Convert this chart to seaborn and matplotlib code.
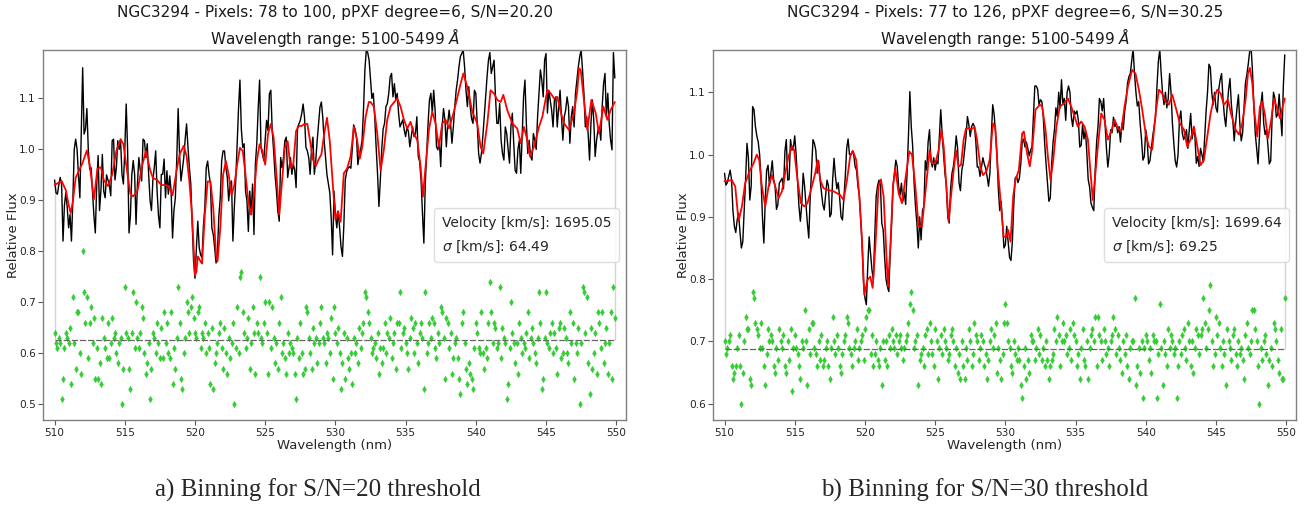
import numpy as np
import matplotlib
matplotlib.use("Agg")
import matplotlib.pyplot as plt
from matplotlib.lines import Line2D
import seaborn as sns

# ---------------- data ----------------
WL_START_A = 5100   # Angstrom, first pixel
WL_STEP_A = 1       # Angstrom per pixel

# Panel a) S/N=20 binning
galaxy_a = [
    .94,.915,.912,.93,.945,.93,.82,.89,.915,.886,
    .846,.872,.82,.90,1.0,1.02,1.0,.95,.905,1.03,
    1.16,1.03,1.04,1.08,1.0,.961,.964,.918,.87,.836,
    .93,.988,.88,.92,.99,.918,.905,.95,.94,.93,
    .909,1.017,1.02,.94,.964,1.017,1.0,1.017,.951,.932,
    1.0,1.089,1.0,.836,.87,.95,.978,.951,.853,.932,
    .984,.96,.938,1.02,1.017,.984,1.011,.95,.90,.88,
    .94,.964,.997,.918,.87,.846,.951,.951,.981,.905,
    .958,.912,.948,.918,.826,.88,.905,.98,1.08,.991,
    .938,.96,.984,1.02,1.05,1.004,.964,.932,.853,.78,
    .747,.807,.859,.807,.793,.787,.85,.886,.964,.977,
    .951,.932,.846,.833,.807,.777,.80,.87,.905,.978,
    .997,.997,.964,.945,.899,.932,.938,.82,.886,.938,
    1.011,1.08,1.136,1.04,1.004,1.011,.918,.899,.839,.918,
    .872,.932,.833,.971,1.011,1.08,1.136,1.004,.991,.978,
    1.02,1.057,1.037,1.109,1.116,1.037,.997,.95,.918,.879,
    .859,.984,.964,.984,1.017,1.024,.945,.964,.984,.951,
    .971,.96,.925,1.043,1.05,1.057,1.07,1.089,1.063,1.004,
    .997,.984,.951,1.0,1.024,.951,.978,1.017,1.05,1.083,
    1.093,1.063,1.017,.984,.95,.932,.915,.866,.793,.918,
    .872,.846,.879,.846,.809,.79,.85,.94,.956,.963,
    .966,.963,1.0,1.048,1.04,1.025,.97,.99,1.0,1.018,
    1.077,1.156,1.195,1.19,1.175,1.136,1.1,1.11,1.064,1.005,
    .953,.888,.94,1.0,1.04,1.051,1.084,1.09,1.11,1.142,
    1.149,1.103,1.129,1.097,1.11,1.071,1.044,1.051,1.058,1.038,
    1.025,1.044,1.035,1.005,1.025,1.044,1.025,1.031,1.064,.986,
    .976,.94,.875,.816,.933,.992,1.051,1.097,1.11,1.071,
    1.116,1.077,1.005,.999,1.018,.966,1.044,1.08,1.058,1.005,
    1.051,1.077,1.051,1.012,1.044,1.084,1.116,1.136,1.162,1.182,
    1.188,1.195,1.162,1.116,1.084,1.123,1.084,1.06,1.051,1.116,
    1.11,1.051,.992,.973,.992,1.025,1.064,1.103,1.142,1.175,
    1.19,1.149,1.162,1.175,1.103,1.051,1.051,1.09,1.018,.992,
    .979,1.044,1.031,1.0,.973,1.044,1.071,1.012,.959,.953,
    1.0,1.018,.953,1.025,1.103,1.136,1.051,.992,1.018,.986,
    .979,1.031,1.018,1.0,1.064,1.11,1.156,1.136,1.103,1.175,
    1.188,1.071,1.116,1.097,1.077,1.044,1.097,1.103,1.044,1.084,
    1.116,1.064,1.018,1.064,1.077,1.103,1.084,1.012,1.064,1.084,
    1.044,1.11,1.136,1.162,1.182,1.195,1.156,1.11,1.044,1.064,
    1.031,.979,1.051,1.097,1.058,.986,1.018,1.038,1.044,1.018,
    1.084,1.129,1.149,1.064,1.11,1.051,1.018,.999,1.19,1.14,
]

fit_wl_a = [
    510.0, 510.3, 510.5, 510.8, 511.0, 511.15, 511.3, 511.5, 511.8, 512.0,
    512.3, 512.5, 512.8, 513.05, 513.3, 513.5, 513.8, 514.1, 514.4, 514.7,
    514.9, 515.2, 515.4, 515.6, 515.9, 516.2, 516.5, 516.8, 517.0, 517.3,
    517.6, 517.9, 518.1, 518.4, 518.7, 518.9, 519.2, 519.4, 519.6, 519.8,
    520.0, 520.1, 520.2, 520.4, 520.5, 520.7, 520.9, 521.1, 521.3, 521.5,
    521.6, 521.8, 522.0, 522.2, 522.4, 522.6, 522.8, 523.0, 523.2, 523.4,
    523.6, 523.8, 524.0, 524.2, 524.4, 524.6, 524.8, 525.0, 525.2, 525.4,
    525.6, 525.8, 526.0, 526.2, 526.4, 526.6, 526.8, 527.0, 527.2, 527.4,
    527.6, 527.8, 528.0, 528.2, 528.4, 528.6, 528.8, 529.0, 529.2, 529.4,
    529.6, 529.8, 530.0, 530.18, 530.37, 530.6, 530.84, 531.08, 531.32, 531.55,
    531.74, 531.91, 532.15, 532.38, 532.5, 532.74, 532.98, 533.22, 533.45, 533.69,
    533.93, 534.4, 534.64, 534.88, 535.12, 535.35, 535.59, 535.83, 536.07, 536.23,
    536.42, 536.66, 536.9, 537.13, 537.37, 537.61, 537.85, 538.09, 538.44, 538.92,
    539.11, 539.39, 539.75, 540.1, 540.34, 540.53, 540.82, 541.05, 541.29, 541.53,
    541.77, 541.96, 542.24, 542.6, 542.95, 543.19, 543.43, 543.67, 543.86, 544.14,
    544.5, 544.74, 545.09, 545.33, 545.57, 545.8, 546.04, 546.28, 546.64, 546.99,
    547.23, 547.35, 547.47, 547.7, 547.94, 548.23, 548.54, 548.77, 549.08, 549.37,
    549.6, 549.9,
]
fit_flux_a = [
    .930, .935, .938, .92, .891, .875, .898, .944, .962, .974,
    .998, .97, .902, .962, .965, .94, .928, .95, .997, 1.02,
    1.01, .95, .912, .908, .918, .964, .997, .96, .944, .94,
    .93, .93, .928, .91, .96, .99, 1.007, .987, .937, .865,
    .753, .76, .79, .78, .776, .872, .937, .937, .885, .793,
    .78, .845, .95, .977, .95, .91, .93, .97, 1.003, .997,
    .95, .898, .872, .91, .977, 1.01, .997, .97, 1.03, 1.05,
    1.023, .95, .872, .937, 1.003, 1.016, .964, .97, 1.036, 1.046,
    1.046, 1.05, 1.05, 1.016, .98, .967, .98, .99, 1.03, 1.062,
    1.016, .937, .862, .878, .858, .953, .963, .986, 1.044, 1.018,
    .982, 1.005, 1.064, 1.093, 1.093, 1.084, 1.031, .959, .999, 1.058,
    1.084, 1.1, 1.084, 1.058, 1.041, 1.054, 1.031, 1.018, .966, .907,
    .966, 1.038, 1.074, 1.051, 1.005, 1.051, 1.058, 1.041, 1.074, 1.129,
    1.149, 1.123, 1.074, 1.051, 1.005, .992, 1.051, 1.116, 1.11, 1.097,
    1.093, 1.107, 1.077, 1.051, 1.041, 1.012, 1.044, 1.018, .986, 1.005,
    1.044, 1.064, 1.116, 1.11, 1.1, 1.103, 1.074, 1.051, 1.038, 1.071,
    1.116, 1.159, 1.156, 1.097, 1.038, 1.097, 1.071, 1.031, 1.084, 1.058,
    1.077, 1.093,
]

resid_a = [
    .64,.62,.61,.63,.62,.51,.55,.61,.64,.63,.62,.65,.54,.71,.62,.57,.68,.68,.60,.56,
    .80,.72,.66,.71,.59,.66,.69,.62,.67,.55,.61,.55,.58,.54,.67,.63,.61,.59,.66,.59,
    .62,.67,.63,.64,.60,.58,.62,.63,.50,.57,.73,.64,.63,.57,.53,.64,.72,.61,.70,.63,
    .61,.64,.69,.67,.60,.56,.58,.62,.51,.57,.64,.63,.60,.66,.62,.59,.65,.59,.68,.62,
    .66,.60,.59,.68,.54,.61,.57,.63,.73,.66,.55,.53,.60,.63,.70,.68,.64,.69,.71,.67,
    .64,.63,.68,.69,.61,.64,.63,.66,.60,.64,.61,.54,.65,.53,.58,.60,.62,.64,.66,.61,
    .57,.65,.60,.56,.63,.59,.62,.66,.50,.61,.69,.60,.75,.76,.68,.64,.61,.63,.67,.57,
    .62,.69,.64,.56,.66,.64,.75,.63,.62,.66,.70,.64,.56,.70,.61,.69,.63,.58,.62,.57,
    .66,.71,.60,.62,.59,.56,.64,.60,.62,.61,.60,.56,.51,.63,.59,.66,.60,.56,.57,.69,
    .68,.63,.60,.57,.65,.62,.63,.58,.62,.66,.69,.63,.62,.58,.64,.63,.60,.67,.55,.69,
    .64,.62,.65,.60,.53,.58,.64,.55,.63,.59,.57,.60,.54,.63,.60,.62,.58,.65,.61,.64,
    .66,.72,.71,.68,.66,.63,.60,.61,.62,.59,.64,.56,.61,.58,.61,.66,.60,.64,.63,.67,
    .59,.62,.64,.57,.66,.66,.72,.61,.64,.65,.62,.60,.57,.63,.67,.65,.60,.66,.62,.58,
    .64,.66,.63,.53,.72,.60,.62,.66,.63,.67,.66,.61,.59,.64,.62,.69,.68,.63,.55,.67,
    .66,.61,.64,.56,.59,.62,.63,.59,.55,.52,.66,.68,.62,.57,.54,.58,.56,.55,.53,.61,
    .66,.64,.61,.60,.68,.60,.57,.61,.59,.66,.74,.68,.62,.66,.65,.61,.62,.73,.59,.65,
    .63,.62,.51,.54,.61,.70,.64,.62,.58,.62,.56,.66,.63,.60,.62,.61,.64,.68,.59,.63,
    .65,.62,.60,.58,.63,.72,.66,.53,.55,.63,.72,.62,.61,.64,.66,.60,.64,.61,.56,.65,
    .66,.59,.60,.65,.63,.60,.58,.68,.62,.66,.55,.62,.60,.65,.50,.62,.73,.72,.64,.71,
    .58,.52,.65,.57,.60,.64,.56,.68,.66,.61,.68,.58,.62,.65,.56,.62,.68,.55,.73,.67,
]
resid_level_a = 0.626

# Panel b) S/N=30 binning
galaxy_b = [
    .97,.951,.955,.965,.975,.96,.91,.885,.875,.895,
    .906,.876,.85,.86,.91,.96,1.018,.995,.927,.95,
    1.077,1.072,1.045,1.03,1.02,1.0,.96,.9,.858,.927,
    .975,.983,.95,.97,.99,.96,.95,.912,.92,.954,
    .958,.962,.945,1.005,1.024,.959,.96,1.024,1.007,1.01,
    1.03,1.0,.96,.917,.893,.92,.97,.95,.92,.89,
    .866,.93,.975,1.024,1.018,1.007,.97,.99,.96,.94,
    .92,.911,.935,.959,.95,.90,.905,.96,.994,.965,
    .945,.955,.93,.9,.895,.93,.965,1.01,1.025,1.0,
    1.0,1.005,1.0,.981,.975,.95,.935,.895,.855,.795,
    .77,.759,.82,.868,.842,.815,.799,.87,.933,.95,
    .959,.954,.89,.879,.836,.80,.788,.78,.842,.89,
    .949,.97,.991,.981,.949,.935,.954,.925,.94,.92,
    .97,1.03,1.101,1.045,1.013,.955,.917,.89,.85,.90,
    .863,.91,.917,.99,.975,1.02,1.04,.99,.98,.995,
    .975,.99,.985,1.03,1.072,1.034,1.0,.97,.95,.90,
    .89,.945,.97,.981,1.0,1.03,1.01,.955,.942,.975,
    .986,1.007,1.029,1.061,1.048,1.029,1.045,1.05,1.045,1.02,
    .98,.98,.965,.98,.995,.985,.978,.965,.949,.97,
    1.03,1.08,1.065,1.035,1.0,.945,.91,.925,.89,.85,
    .855,.885,.86,.835,.83,.86,.92,.962,.965,.955,
    .962,.985,1.02,1.025,1.012,1.02,1.01,.998,1.007,1.013,
    1.06,1.11,1.11,1.105,1.08,1.088,1.085,1.061,1.018,.985,
    .955,.925,.93,.985,1.02,1.04,1.075,1.061,1.1,1.075,
    1.12,1.08,1.09,1.055,1.1,1.11,1.1,1.06,1.045,1.07,
    1.065,1.07,1.055,1.012,1.015,1.048,1.025,1.04,1.005,.96,
    .948,.922,.915,.91,.975,1.02,1.045,1.09,1.085,1.07,
    1.09,1.05,1.01,.98,1.0,1.04,1.035,1.06,1.045,1.05,
    1.035,1.045,1.02,1.05,1.04,1.07,1.085,1.114,1.125,1.13,
    1.15,1.17,1.13,1.1,1.078,1.085,1.05,1.024,.991,.997,
    1.04,1.024,.985,.99,1.01,1.03,1.045,1.06,1.11,1.15,
    1.168,1.13,1.098,1.08,1.1,1.075,1.09,1.13,1.1,1.05,
    1.018,.99,.98,1.0,1.056,1.07,1.035,1.024,1.03,1.04,
    1.01,1.04,1.066,1.025,1.04,1.03,.986,.997,.981,1.01,
    1.0,.988,1.03,1.07,1.1,1.145,1.14,1.1,1.08,1.1,
    1.075,1.068,1.105,1.12,1.13,1.09,1.062,1.045,1.077,1.104,
    1.122,1.08,1.055,1.022,1.05,1.075,1.096,1.05,1.022,1.035,
    1.075,1.115,1.128,1.145,1.165,1.173,1.135,1.077,1.034,1.01,
    .985,1.03,1.08,1.1,1.05,1.032,1.04,1.015,.985,.99,
    1.06,1.1,1.09,1.06,1.065,1.097,1.063,1.03,1.11,1.16,
]

fit_wl_b = [
    510.0, 510.29, 510.52, 510.76, 511.0, 511.24, 511.47, 511.78, 512.07, 512.3,
    512.47, 512.66, 512.9, 513.14, 513.37, 513.61, 513.85, 514.09, 514.32, 514.56,
    514.8, 514.96, 515.2, 515.44, 515.68, 515.91, 516.22, 516.46, 516.63, 516.82,
    517.05, 517.41, 517.77, 518.0, 518.24, 518.48, 518.72, 518.95, 519.14, 519.38,
    519.62, 519.79, 519.95, 520.19, 520.38, 520.55, 520.74, 520.97, 521.14, 521.33,
    521.52, 521.64, 521.81, 522.0, 522.16, 522.4, 522.64, 522.87, 523.16, 523.35,
    523.59, 523.82, 524.06, 524.3, 524.61, 524.77, 525.01, 525.25, 525.44, 525.61,
    525.8, 525.96, 526.13, 526.32, 526.48, 526.67, 526.84, 527.03, 527.2, 527.39,
    527.62, 527.81, 527.98, 528.22, 528.41, 528.65, 528.88, 529.12, 529.29, 529.45,
    529.69, 529.88, 530.07, 530.2, 530.37, 530.56, 530.72, 530.96, 531.2, 531.32,
    531.55, 531.74, 531.91, 532.15, 532.46, 532.62, 532.86, 533.03, 533.22, 533.41,
    533.64, 533.88, 534.17, 534.45, 534.69, 534.93, 535.16, 535.4, 535.64, 535.88,
    536.07, 536.23, 536.37, 536.59, 536.83, 537.06, 537.3, 537.54, 537.78, 538.01,
    538.25, 538.49, 538.73, 539.03, 539.27, 539.51, 539.75, 539.99, 540.22, 540.46,
    540.7, 540.94, 541.17, 541.41, 541.65, 541.89, 542.12, 542.43, 542.72, 542.95,
    543.19, 543.43, 543.71, 543.9, 544.14, 544.38, 544.62, 544.85, 545.09, 545.33,
    545.57, 545.85, 546.09, 546.4, 546.64, 546.87, 547.11, 547.28, 547.42, 547.59,
    547.75, 547.94, 548.13, 548.3, 548.49, 548.7, 548.94, 549.13, 549.32, 549.56,
    549.72, 549.9,
]
fit_flux_b = [
    .957, .958, .959, .949, .893, .917, .954, .973, .986, 1.0,
    .991, .949, .917, .949, .967, .949, .93, .941, .97, .997,
    1.014, 1.007, .959, .922, .917, .922, .949, .97, .991, .959,
    .946, .943, .941, .938, .935, .927, .959, .997, 1.006, .991,
    .927, .863, .775, .799, .804, .786, .852, .949, .96, .933,
    .842, .788, .852, .949, .978, .938, .922, .959, 1.005, 1.0,
    .949, .885, .885, .938, 1.007, .986, .986, 1.007, 1.04, 1.013,
    .949, .893, .933, .975, 1.007, .981, .983, 1.024, 1.042, 1.042,
    1.041, 1.044, 1.024, .981, .967, .973, .991, 1.05, 1.042, .981,
    .917, .868, .868, .879, .86, .933, .959, .975, 1.034, 1.037,
    1.002, .981, 1.007, 1.072, 1.08, 1.077, 1.04, .997, .959, .991,
    1.045, 1.077, 1.082, 1.09, 1.077, 1.061, 1.045, 1.053, 1.045, 1.024,
    .97, .927, .959, 1.013, 1.066, 1.056, 1.024, 1.037, 1.056, 1.042,
    1.037, 1.077, 1.109, 1.136, 1.13, 1.104, 1.072, 1.034, 1.013, 1.008,
    1.066, 1.104, 1.098, 1.085, 1.08, 1.096, 1.077, 1.05, 1.04, 1.013,
    1.024, 1.045, 1.008, .983, .991, 1.029, 1.066, 1.09, 1.104, 1.098,
    1.08, 1.088, 1.064, 1.04, 1.032, 1.05, 1.088, 1.13, 1.139, 1.114,
    1.066, 1.029, 1.077, 1.085, 1.064, 1.026, 1.056, 1.09, 1.077, 1.058,
    1.074, 1.09,
]

resid_b = [
    .70,.68,.69,.70,.71,.66,.64,.65,.66,.69,.71,.66,.60,.65,.70,.74,.72,.72,.64,.63,
    .78,.77,.73,.72,.71,.69,.73,.69,.66,.63,.68,.72,.70,.71,.70,.66,.65,.69,.67,.72,
    .70,.69,.71,.66,.65,.70,.67,.72,.62,.69,.71,.69,.68,.66,.64,.70,.69,.75,.70,.63,
    .72,.68,.73,.73,.69,.68,.66,.70,.67,.71,.66,.67,.69,.70,.66,.64,.69,.74,.70,.68,
    .71,.69,.66,.65,.68,.70,.71,.74,.73,.69,.68,.66,.69,.70,.72,.67,.69,.70,.71,.67,
    .72,.74,.75,.75,.68,.71,.66,.68,.70,.67,.66,.69,.63,.70,.67,.70,.66,.71,.69,.72,
    .70,.69,.71,.68,.70,.71,.69,.67,.69,.70,.71,.73,.76,.78,.75,.69,.70,.71,.63,.67,
    .68,.69,.66,.71,.72,.68,.73,.70,.68,.66,.72,.70,.64,.69,.71,.68,.72,.70,.69,.67,
    .68,.71,.72,.70,.66,.69,.65,.68,.64,.70,.66,.64,.69,.67,.72,.70,.66,.68,.73,.71,
    .70,.67,.69,.71,.70,.66,.68,.64,.67,.70,.72,.69,.71,.73,.65,.69,.67,.64,.68,.73,
    .76,.73,.70,.69,.66,.65,.70,.68,.67,.69,.67,.63,.61,.66,.69,.64,.67,.65,.71,.70,
    .70,.67,.69,.72,.68,.71,.67,.69,.66,.70,.67,.64,.66,.67,.68,.72,.70,.74,.71,.66,
    .70,.73,.70,.71,.68,.69,.72,.67,.73,.71,.70,.66,.68,.64,.69,.72,.67,.66,.70,.64,
    .69,.71,.72,.70,.74,.66,.74,.71,.70,.67,.72,.70,.68,.69,.66,.70,.71,.74,.72,.68,
    .71,.69,.67,.65,.70,.68,.71,.66,.64,.69,.70,.70,.77,.63,.66,.69,.65,.70,.61,.69,
    .71,.70,.67,.69,.65,.71,.70,.70,.61,.68,.76,.69,.63,.70,.68,.66,.72,.69,.71,.70,
    .68,.69,.61,.66,.70,.68,.71,.72,.69,.67,.73,.70,.66,.70,.65,.69,.72,.71,.68,.71,
    .72,.77,.73,.69,.72,.75,.79,.70,.66,.68,.74,.71,.73,.69,.66,.70,.68,.63,.72,.70,
    .69,.67,.71,.72,.68,.66,.70,.68,.69,.67,.64,.71,.73,.69,.68,.70,.75,.75,.72,.70,
    .66,.60,.69,.67,.70,.71,.68,.63,.67,.69,.66,.73,.72,.70,.67,.65,.72,.64,.64,.77,
]
resid_level_b = 0.688

titles = [
    "NGC3294 - Pixels: 78 to 100, pPXF degree=6, S/N=20.20\nWavelength range: 5100-5499 $\\AA$",
    "NGC3294 - Pixels: 77 to 126, pPXF degree=6, S/N=30.25\nWavelength range: 5100-5499 $\\AA$",
]
velocities = ["1695.05", "1699.64"]
sigmas = ["64.49", "69.25"]
captions = ["a) Binning for S/N=20 threshold", "b) Binning for S/N=30 threshold"]
xticks = [510, 515, 520, 525, 530, 535, 540, 545, 550]
yticks_a = [0.5, 0.6, 0.7, 0.8, 0.9, 1.0, 1.1]
yticks_b = [0.6, 0.7, 0.8, 0.9, 1.0, 1.1]

# ---------------- style ----------------
sns.set_style("ticks")
plt.rcParams["font.family"] = ["DejaVu Sans"]
plt.rcParams["mathtext.fontset"] = "dejavusans"

fig = plt.figure(figsize=(13.1, 5.08), dpi=100)
ax_a = fig.add_axes([0.0331, 0.1732, 0.4448, 0.7274])
ax_b = fig.add_axes([0.5445, 0.1732, 0.4448, 0.7274])

panels = [
    (ax_a, galaxy_a, fit_wl_a, fit_flux_a, resid_a, resid_level_a, (0.469, 1.194), yticks_a),
    (ax_b, galaxy_b, fit_wl_b, fit_flux_b, resid_b, resid_level_b, (0.574, 1.167), yticks_b),
]

for i, (ax, gal, fwl, fflux, res, lvl, ylim, yt) in enumerate(panels):
    wl = (WL_START_A + WL_STEP_A * np.arange(len(gal))) / 10.0   # nm
    wl_r = (WL_START_A + WL_STEP_A * np.arange(len(res))) / 10.0

    sns.lineplot(x=wl, y=gal, ax=ax, color="k", linewidth=1.0,
                 estimator=None, sort=False, legend=False, zorder=2)
    sns.lineplot(x=fwl, y=fflux, ax=ax, color="red", linewidth=1.3,
                 estimator=None, sort=False, legend=False, zorder=3)
    sns.scatterplot(x=wl_r, y=res, ax=ax, marker="d", s=11, color="limegreen",
                    edgecolor="limegreen", linewidth=0.3, legend=False, zorder=4)
    # residual zero level
    sns.lineplot(x=[wl_r[0], wl_r[-1]], y=[lvl, lvl], ax=ax, color="0.4",
                 linewidth=0.9, linestyle=(0, (5, 1.5)), legend=False, zorder=5)
    # light-gray end markers of the fitted range
    ax.vlines([wl[0], wl[-1]], [lvl, lvl], [fflux[0], fflux[-1]],
              colors="lightgray", linewidth=1.0, zorder=1)

    ax.set_xlim(509.2, 550.7)
    ax.set_ylim(*ylim)
    ax.set_xticks(xticks)
    ax.set_yticks(yt)
    ax.set_yticklabels([f"{v:.1f}" for v in yt])
    ax.tick_params(axis="both", labelsize=7.6, length=3.5, width=0.8,
                   color="0.35", labelcolor="0.15", pad=2)
    for sp in ax.spines.values():
        sp.set_visible(True)
        sp.set_color("0.5")
        sp.set_linewidth(1.0)
    ax.set_xlabel("Wavelength (nm)", fontsize=9.5, color="0.15", labelpad=1)
    ax.set_ylabel("Relative Flux", fontsize=9.5, color="0.15")
    ax.yaxis.set_label_coords(-0.040, 0.5)
    ax.set_title(titles[i], fontsize=11, color="0.1", linespacing=1.3, pad=5)

    handles = [Line2D([], [], linestyle="none"), Line2D([], [], linestyle="none")]
    labels = [f"Velocity [km/s]: {velocities[i]}", f"$\\sigma$ [km/s]: {sigmas[i]}"]
    ax.legend(handles, labels, loc="center right", fontsize=10,
              handlelength=0, handletextpad=0, labelspacing=0.6,
              frameon=True, framealpha=0.85, edgecolor="0.85", fancybox=True,
              borderpad=0.55)

fig.text(0.2427, 0.035, captions[0], ha="center", va="center",
         fontsize=18, family=["Liberation Serif", "DejaVu Serif"])
fig.text(0.752, 0.035, captions[1], ha="center", va="center",
         fontsize=18, family=["Liberation Serif", "DejaVu Serif"])

fig.savefig("out.png", dpi=100, facecolor="white")
